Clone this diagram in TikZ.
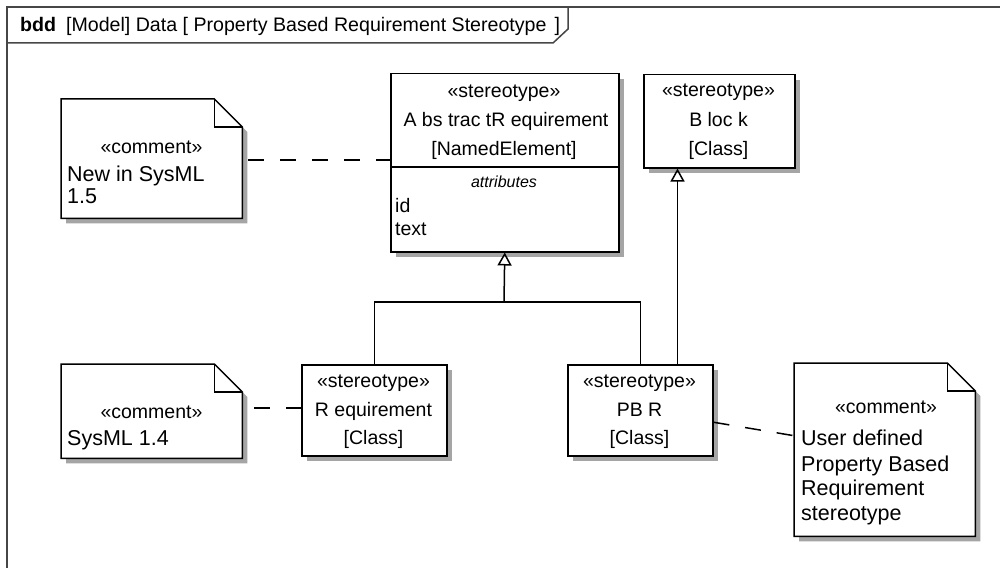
\documentclass[tikz,border=0pt]{standalone}
\usepackage{fontspec}
\setmainfont{Liberation Sans}
\usetikzlibrary{arrows.meta,shadows}
\definecolor{shgray}{RGB}{165,165,165}
\definecolor{framec}{RGB}{70,70,70}
\newcommand\notebody[1]{%
  \fill[shgray] ([shift={(5,5)}]#1.north west) -- ([shift={(-23,5)}]#1.north east) -- ([shift={(5,33)}]#1.north east) -- ([shift={(5,5)}]#1.south east) -- ([shift={(5,5)}]#1.south west) -- cycle;
  \draw[ln, fill=white] (#1.north west) -- ([shift={(-28,0)}]#1.north east) -- ([shift={(0,28)}]#1.north east) -- (#1.south east) -- (#1.south west) -- cycle;
  \draw[ln] ([shift={(-28,0)}]#1.north east) -- ([shift={(-28,28)}]#1.north east) -- ([shift={(0,28)}]#1.north east);
}
\begin{document}
\begin{tikzpicture}[x=1pt,y=-1pt,
  ln/.style={line width=1.5pt, line join=miter},
  box/.style={draw, line width=1.5pt, fill=white, inner sep=0pt, anchor=north west,
    drop shadow={shadow xshift=5pt, shadow yshift=-5pt, fill=shgray, opacity=1}},
  notebox/.style={inner sep=0pt, anchor=north west},
  txt/.style={font=\fontsize{19.5}{23}\selectfont, inner sep=0pt, anchor=base},
  ltxt/.style={txt, anchor=base west},
  ntxt/.style={font=\fontsize{21.5}{25}\selectfont, inner sep=0pt, anchor=base west},
  small/.style={font=\fontsize{16}{18}\itshape, inner sep=0pt, anchor=base},
  gen/.style={ln, -{Triangle[open, length=13pt, width=14pt, line width=1.5pt]}},
  dsh/.style={line width=1.5pt, dash pattern=on 16pt off 16pt},
]
\useasboundingbox (0,0) rectangle (1000,567);
% frame
\draw[line width=1.5pt, draw=framec] (7,580) -- (7,7) -- (1010,7);
\draw[line width=1.5pt, draw=framec] (7,43) -- (553,43) -- (568,29) -- (568,7);
\node[font=\fontsize{19.6}{23}\selectfont, inner sep=0pt, anchor=base west] (hdr) at (20,32)
  {\textbf{bdd}\hspace{10pt}[Model] Data [ Property Based Requirement Stereotype\hspace{8pt}]};

% class boxes
\node[box, minimum width=228pt, minimum height=178pt] (abs) at (390,73) {};
\node[box, minimum width=151pt, minimum height=93pt] (blk) at (643,74) {};
\node[box, minimum width=145pt, minimum height=91pt] (req) at (301,364) {};
\node[box, minimum width=145pt, minimum height=91pt] (pbr) at (567,364) {};
\coordinate (dv) at (0,167);
\draw[ln] (abs.west |- dv) -- (abs.east |- dv);

\node[txt] (a1) at (504,98) {«stereotype»};
\node[txt] (a2) at (506,127) {A bs trac tR equirement};
\node[txt] (a3) at (504,155) {[NamedElement]};
\node[small] (a4) at (504,187) {attributes};
\node[ltxt] (a5) at (395,212) {id};
\node[ltxt] (a6) at (395,235) {text};

\node[txt] (b1) at (718.5,97) {«stereotype»};
\node[txt] (b2) at (718.5,127) {B loc k};
\node[txt] (b3) at (718.5,155) {[Class]};

\node[txt] (r1) at (373.5,387) {«stereotype»};
\node[txt] (r2) at (373.5,416) {R equirement};
\node[txt] (r3) at (373.5,444) {[Class]};

\node[txt] (p1) at (639.5,387) {«stereotype»};
\node[txt] (p2) at (639.5,416) {PB R};
\node[txt] (p3) at (639.5,444) {[Class]};

% notes
\node[notebox, minimum width=181pt, minimum height=119pt] (c1) at (61,99) {};
\node[notebox, minimum width=181pt, minimum height=94pt] (c2) at (61,364) {};
\node[notebox, minimum width=181pt, minimum height=173pt] (c3) at (794,363) {};
\notebody{c1}
\notebody{c2}
\notebody{c3}
\node[txt] (n11) at (151.5,153) {«comment»};
\node[ntxt] (n12) at (67,181) {New in SysML};
\node[ntxt] (n13) at (67,203) {1.5};
\node[txt] (n21) at (151.5,418) {«comment»};
\node[ntxt] (n22) at (67,445) {SysML 1.4};
\node[txt] (n31) at (886,413) {«comment»};
\node[ntxt] (n32) at (801,445) {User defined};
\node[ntxt] (n33) at (801,471) {Property Based};
\node[ntxt] (n34) at (801,495) {Requirement};
\node[ntxt] (n35) at (801,520) {stereotype};

% generalizations
\coordinate (j) at (504,302);
\draw[ln] (req.north) |- (j) -| (pbr.north);
\draw[gen] (j) -- (abs.south);
\draw[gen] ([xshift=-36pt]pbr.north east) coordinate (k) -- (k |- blk.south);

% anchors
\coordinate (d1) at (0,160);
\coordinate (d2) at (0,408);
\draw[dsh, dash phase=26pt] (c1.east |- d1) -- (abs.west |- d1);
\draw[dsh, dash phase=20pt] (c2.east |- d2) -- (req.west |- d2);
\draw[dsh] ([shift={(0,12)}]pbr.east) -- ([shift={(0,-14)}]c3.west);
\end{tikzpicture}
\end{document}
